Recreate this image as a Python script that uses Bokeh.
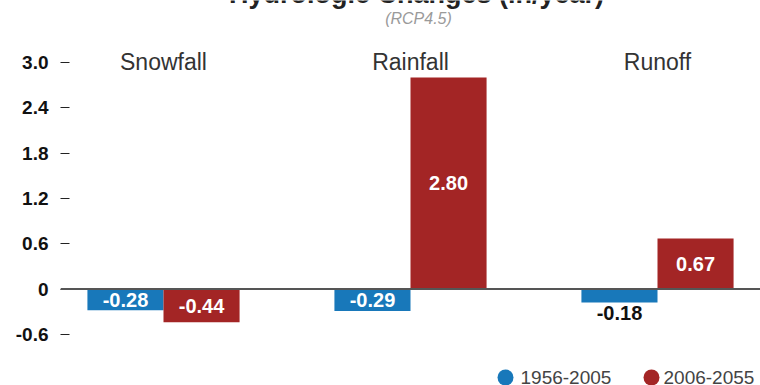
import numpy as np
from bokeh.plotting import figure
from bokeh.models import ColumnDataSource, Range1d, Span, FixedTicker
from bokeh.core.properties import value
from bokeh.embed import file_html
from bokeh.resources import INLINE

# ---- data -------------------------------------------------------------
categories = ["Snowfall", "Rainfall", "Runoff"]
series_names = ["1956-2005", "2006-2055"]
change_1956_2005 = [-0.28, -0.29, -0.18]
change_2006_2055 = [-0.44, 2.80, 0.67]
y_ticks = [-0.6, 0.0, 0.6, 1.2, 1.8, 2.4, 3.0]
y_tick_labels = ["-0.6", "0", "0.6", "1.2", "1.8", "2.4", "3.0"]
title_text = "Hydrologic Changes (in/year)"
subtitle_text = "(RCP4.5)"

# ---- style ------------------------------------------------------------
FONT = "Liberation Sans"
COLORS = ["#1878ba", "#a32525"]
BAR_W = 0.308          # width of one bar in group units
INSIDE_MIN = 0.25      # bars shorter than this get their label outside
W, H = 760, 385
LEFT = 60

p = figure(
    width=W, height=H,
    output_backend="svg", toolbar_location=None,
    x_range=Range1d(-0.417, 2.417),
    y_range=Range1d(-1.278, 3.821),
    x_axis_location=None,
    min_border_left=LEFT, min_border_right=0,
    min_border_top=0, min_border_bottom=0,
    outline_line_color=None,
    background_fill_color="white", border_fill_color="white",
)
# canvas-pixel coordinate system for the heading and the key
p.extra_x_ranges = {"px": Range1d(LEFT, W)}
p.extra_y_ranges = {"px": Range1d(H, 0)}
p.grid.grid_line_color = None

# ---- y axis -----------------------------------------------------------
ax = p.yaxis[0]
ax.ticker = FixedTicker(ticks=y_ticks)
ax.major_label_overrides = {float(t): lab for t, lab in zip(y_ticks, y_tick_labels)}
ax.axis_line_color = None
ax.minor_tick_line_color = None
ax.major_tick_in = 9
ax.major_tick_out = 0
ax.major_tick_line_color = "#222222"
ax.major_tick_line_width = 1
ax.major_label_standoff = 12
ax.major_label_text_font = FONT
ax.major_label_text_font_size = "19px"
ax.major_label_text_font_style = "bold"
ax.major_label_text_color = "#111111"

# ---- bars ---------------------------------------------------------------
xs = np.arange(len(categories), dtype=float)
offsets = [-BAR_W / 2, BAR_W / 2]
all_series = [change_1956_2005, change_2006_2055]

inside = dict(x=[], y=[], text=[])
outside = dict(x=[], y=[], text=[])
for vals, off, col in zip(all_series, offsets, COLORS):
    bx = xs + off
    p.vbar(x=bx, top=vals, bottom=0, width=BAR_W,
           fill_color=col, line_color=None)
    for x, v in zip(bx, vals):
        lab = f"{v:.2f}"
        if abs(v) >= INSIDE_MIN:
            inside["x"].append(x); inside["y"].append(v / 2); inside["text"].append(lab)
        else:
            outside["x"].append(x); outside["y"].append(v); outside["text"].append(lab)

p.add_layout(Span(location=0, dimension="width", line_color="#555555", line_width=2))

p.text(x="x", y="y", text="text", source=ColumnDataSource(inside),
       text_align="center", text_baseline="middle",
       text_font=value(FONT), text_font_style="bold",
       text_font_size="20px", text_color="white")
p.text(x="x", y="y", text="text", source=ColumnDataSource(outside),
       text_align="center", text_baseline="top", y_offset=3,
       text_font=value(FONT), text_font_style="bold",
       text_font_size="20px", text_color="#111111")

# category headings along the top tick
p.text(x=xs, y=[y_ticks[-1]] * len(categories), text=categories,
       text_align="center", text_baseline="middle",
       text_font=value(FONT), text_font_size="23px", text_color="#333333")

# ---- heading ------------------------------------------------------------
p.text(x=[416], y=[-7], text=[title_text], x_range_name="px", y_range_name="px",
       text_align="center", text_baseline="alphabetic",
       text_font=value(FONT), text_font_style="bold",
       text_font_size="27px", text_color="#222222")
p.text(x=[418], y=[18], text=[subtitle_text], x_range_name="px", y_range_name="px",
       text_align="center", text_baseline="alphabetic",
       text_font=value(FONT), text_font_style="italic",
       text_font_size="16px", text_color="#9a9a9a")

# ---- key ------------------------------------------------------------------
key_dot_x = [505, 651]
key_text_x = [520, 663]
key_y = 377
p.scatter(x=key_dot_x, y=[key_y] * 2, size=16, marker="circle",
          fill_color=COLORS, line_color=None,
          x_range_name="px", y_range_name="px")
p.text(x=key_text_x, y=[key_y] * 2, text=series_names,
       x_range_name="px", y_range_name="px",
       text_align="left", text_baseline="middle",
       text_font=value(FONT), text_font_size="19px", text_color="#444444")

open("out.html", "w").write(file_html(p, INLINE))
